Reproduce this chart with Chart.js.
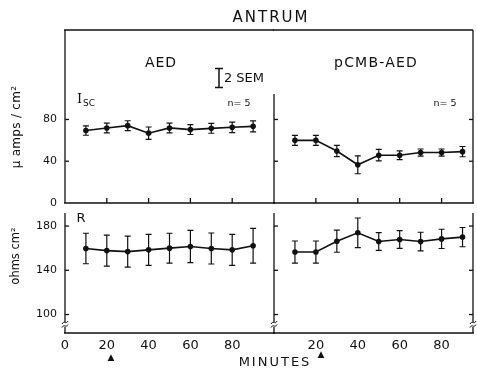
<!DOCTYPE html>
<html><head><meta charset="utf-8">
<script src="https://cdn.jsdelivr.net/npm/chart.js@4/dist/chart.umd.min.js"></script>
<style>
html,body{margin:0;padding:0;background:#fff;}
#wrap{position:relative;width:477px;height:369px;overflow:hidden;font-family:"DejaVu Sans",sans-serif;color:#111;}
canvas{position:absolute;left:0;top:0;}
.t{position:absolute;white-space:nowrap;line-height:1;transform:translate(-50%,-50%);}
</style></head><body>
<div id="wrap">
<canvas id="c1" width="477" height="369" style="width:477px;height:369px"></canvas>
<canvas id="c2" width="477" height="369" style="width:477px;height:369px"></canvas>
<canvas id="c3" width="477" height="369" style="width:477px;height:369px"></canvas>
<canvas id="c4" width="477" height="369" style="width:477px;height:369px"></canvas>
<div class="t" style="left:271px;top:17px;font-size:15px;letter-spacing:2px;">ANTRUM</div>
<div class="t" style="left:161px;top:62px;font-size:14px;letter-spacing:1px;">AED</div>
<div class="t" style="left:376px;top:62px;font-size:14px;letter-spacing:1.2px;">pCMB-AED</div>
<svg style="position:absolute;left:213px;top:67px" width="12" height="22"><path d="M2 1.5H10M6 1.5V20.5M2 20.5H10" stroke="#111" stroke-width="1.5" fill="none"/></svg>
<div class="t" style="left:244px;top:77px;font-size:13px;">2 SEM</div>
<div class="t" style="left:86px;top:98px;font-size:13px;font-family:'DejaVu Serif',serif;">I<span style="font-family:'DejaVu Sans';font-size:9px;position:relative;top:3px;margin-left:1px">SC</span></div>
<div class="t" style="left:239px;top:103px;font-size:9.5px;">n= 5</div>
<div class="t" style="left:445px;top:103px;font-size:9.5px;">n= 5</div>
<div class="t" style="left:81px;top:217px;font-size:13px;">R</div>
<div class="t" style="left:16px;top:127px;font-size:12px;letter-spacing:0.3px;transform:translate(-50%,-50%) rotate(-90deg);">μ amps / cm²</div>
<div class="t" style="left:16px;top:256px;font-size:11.5px;transform:translate(-50%,-50%) rotate(-90deg);">ohms cm²</div>
<div class="t" style="left:275px;top:361px;font-size:13px;letter-spacing:2px;">MINUTES</div>
<div class="t" style="left:111px;top:357px;font-size:9px;">▲</div>
<div class="t" style="left:321px;top:354px;font-size:9px;">▲</div>
</div>
<script>
// ---- data ----
const minutes = [10, 20, 30, 40, 50, 60, 70, 80, 90];
const iscAED = [69.4, 71.9, 74.1, 66.9, 71.9, 70.3, 71.5, 72.5, 73.4];
const iscAEDSem = [4.5, 4.7, 4.7, 5.9, 4.7, 4.7, 4.7, 5.0, 5.2];
const iscPCMB = [60.0, 60.0, 49.8, 36.6, 45.8, 45.8, 48.3, 48.3, 49.2];
const iscPCMBSem = [4.8, 4.8, 5.4, 8.6, 5.5, 4.2, 3.4, 3.4, 4.9];
const rAED = [159.7, 157.8, 156.9, 158.5, 160.0, 161.5, 159.7, 158.5, 162.2];
const rAEDSem = [13.8, 14.0, 14.0, 14.0, 13.5, 14.5, 14.0, 14.0, 15.7];
const rPCMB = [156.5, 156.5, 166.3, 173.9, 166.0, 167.8, 166.0, 168.4, 170.0];
const rPCMBSem = [10.0, 10.0, 10.0, 13.4, 8.0, 8.0, 8.4, 8.7, 8.7];
const iscTicks = [0, 40, 80];
const rTicks = [100, 140, 180];
const minuteTicksLeft = [0, 20, 40, 60, 80];
const minuteTicksRight = [20, 40, 60, 80];
const innerMinuteTicks = [20, 40, 60, 80];

const W = 477, H = 369, INK = '#111';

function panel(id, cfg) {
  const a = cfg.area;
  const yLabelW = cfg.yLabels ? 40 : 0;
  const xLabelH = cfg.xLabels ? 22 : 0;
  const plug = {
    id: 'frame' + id,
    afterDatasetsDraw(chart) {
      const ctx = chart.ctx, xs = chart.scales.x, ys = chart.scales.y;
      ctx.save();
      ctx.strokeStyle = INK; ctx.lineWidth = 1.2;
      minutes.forEach((m, i) => {
        const x = xs.getPixelForValue(m);
        const y1 = ys.getPixelForValue(cfg.y[i] - cfg.e[i]);
        const y2 = ys.getPixelForValue(cfg.y[i] + cfg.e[i]);
        ctx.beginPath();
        ctx.moveTo(x, y1); ctx.lineTo(x, y2);
        ctx.moveTo(x - 3, y1); ctx.lineTo(x + 3, y1);
        ctx.moveTo(x - 3, y2); ctx.lineTo(x + 3, y2);
        ctx.stroke();
      });
      ctx.restore();
    },
    afterDraw(chart) {
      const ctx = chart.ctx, xs = chart.scales.x, ys = chart.scales.y;
      const ca = chart.chartArea;
      const L = ca.left, R = ca.right, T = ca.top, B = ca.bottom;
      ctx.save();
      ctx.strokeStyle = INK; ctx.lineWidth = 1.3;
      const line = (x1, y1, x2, y2) => { ctx.beginPath(); ctx.moveTo(x1, y1); ctx.lineTo(x2, y2); ctx.stroke(); };
      const brk = (x, y) => {
        ctx.save();
        ctx.fillStyle = '#fff'; ctx.fillRect(x - 2, y - 2, 4, 5);
        ctx.lineWidth = 1;
        for (const dy of [-1.5, 2]) {
          ctx.beginPath();
          ctx.moveTo(x - 3, y + dy + 1.5);
          ctx.bezierCurveTo(x - 1, y + dy - 2.5, x + 1, y + dy + 2.5, x + 3, y + dy - 1.5);
          ctx.stroke();
        }
        ctx.restore();
      };
      if (cfg.top) line(L - 1, T, R, T);
      line(L - 1, B, R + 1, B);
      if (cfg.leftEdge) {
        const y0 = cfg.leftFrom != null ? cfg.leftFrom : T;
        line(L, y0, L, B);
        cfg.yTicks.forEach(v => { const y = ys.getPixelForValue(v); if (y < B - 1) line(L, y, L + 4, y); });
        if (cfg.breaks) brk(L, B - 9);
      }
      if (cfg.rightEdge) {
        line(R, T, R, B);
        cfg.yTicks.forEach(v => { const y = ys.getPixelForValue(v); if (y < B - 1) line(R, y, R - 4, y); });
        if (cfg.breaks) brk(R, B - 9);
      }
      if (cfg.innerX) innerMinuteTicks.forEach(v => { const x = xs.getPixelForValue(v); line(x, B, x, B - 5); });
      ctx.restore();
    }
  };
  return new Chart(document.getElementById(id), {
    type: 'line',
    data: { datasets: [{
      data: cfg.x.map((x, i) => ({ x: x, y: cfg.y[i] })),
      borderColor: INK, borderWidth: 1.6, pointRadius: 2.8, pointBackgroundColor: INK,
      pointBorderWidth: 0, tension: 0, clip: false
    }] },
    options: {
      responsive: false, animation: false, events: [],
      layout: { padding: { left: a.l - yLabelW, top: a.t, right: W - a.r, bottom: H - a.b - xLabelH } },
      plugins: { legend: { display: false }, tooltip: { enabled: false }, title: { display: false } },
      scales: {
        x: {
          type: 'linear', min: cfg.xmin, max: cfg.xmax, display: cfg.xLabels,
          grid: { display: false, drawTicks: false, tickLength: 0 }, border: { display: false },
          afterBuildTicks: s => { s.ticks = cfg.xTicks.map(v => ({ value: v })); },
          afterFit: s => { s.height = xLabelH; },
          ticks: { font: { family: 'DejaVu Sans', size: 13 }, color: INK, padding: 5, maxRotation: 0, autoSkip: false }
        },
        y: {
          type: 'linear', min: cfg.ymin, max: cfg.ymax, display: cfg.yLabels,
          grid: { display: false, drawTicks: false, tickLength: 0 }, border: { display: false },
          afterBuildTicks: s => { s.ticks = cfg.yTicks.map(v => ({ value: v })); },
          afterFit: s => { s.width = yLabelW; },
          ticks: { font: { family: 'DejaVu Sans', size: 11 }, color: INK, padding: 8, autoSkip: false }
        }
      }
    },
    plugins: [plug]
  });
}

// top-left: Isc AED
panel('c1', { area: { l: 65, t: 30, r: 274, b: 203 }, x: minutes, y: iscAED, e: iscAEDSem,
  xmin: 0, xmax: 100, ymin: 0, ymax: 165.7, xTicks: minuteTicksLeft, yTicks: iscTicks,
  yLabels: true, xLabels: false, top: true, leftEdge: true, innerX: true });
// top-right: Isc pCMB-AED
panel('c2', { area: { l: 274, t: 30, r: 474, b: 203 }, x: minutes, y: iscPCMB, e: iscPCMBSem,
  xmin: 0, xmax: 95, ymin: 0, ymax: 165.7, xTicks: minuteTicksRight, yTicks: iscTicks,
  yLabels: false, xLabels: false, top: true, leftEdge: true, leftFrom: 94, rightEdge: true, innerX: true });
// bottom-left: R AED
panel('c3', { area: { l: 65, t: 213, r: 274, b: 333 }, x: minutes, y: rAED, e: rAEDSem,
  xmin: 0, xmax: 100, ymin: 83.3, ymax: 191.8, xTicks: minuteTicksLeft, yTicks: rTicks,
  yLabels: true, xLabels: true, leftEdge: true, breaks: true });
// bottom-right: R pCMB-AED
panel('c4', { area: { l: 274, t: 213, r: 474, b: 333 }, x: minutes, y: rPCMB, e: rPCMBSem,
  xmin: 0, xmax: 95, ymin: 83.3, ymax: 191.8, xTicks: minuteTicksRight, yTicks: rTicks,
  yLabels: false, xLabels: true, leftEdge: true, rightEdge: true, breaks: true });
</script>
</body></html>
